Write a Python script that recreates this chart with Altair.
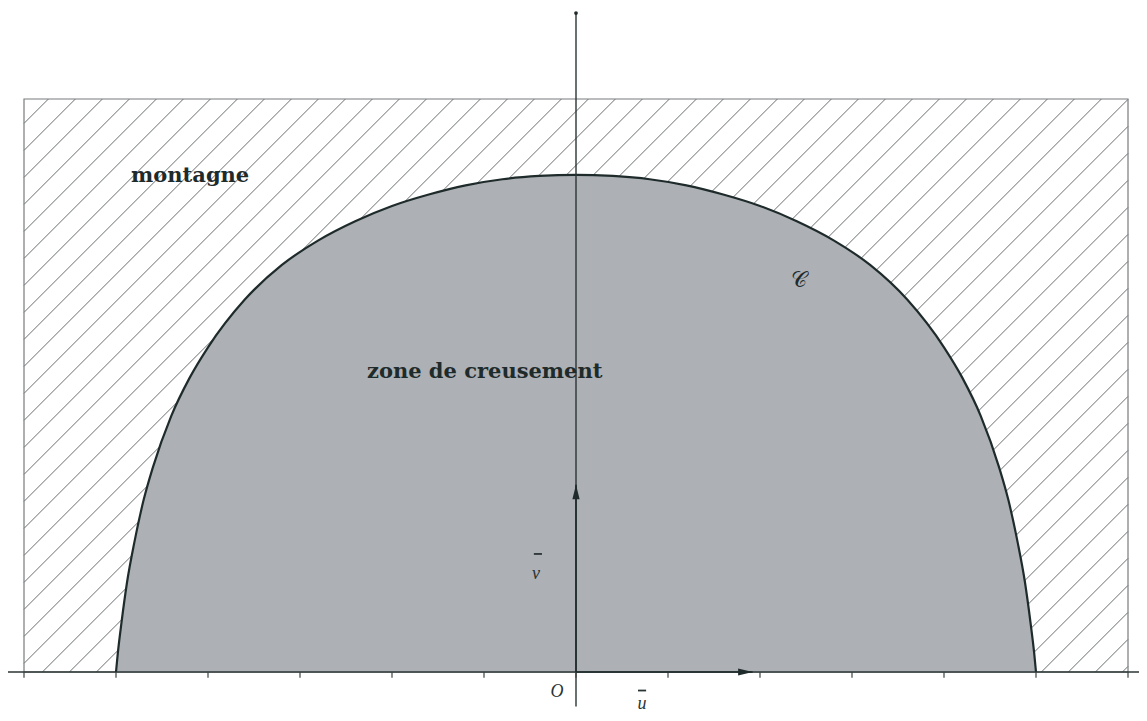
import altair as alt
import pandas as pd

# ---- data (data units: u = v = 1) ----
curve_x = [-2.5, -2.49, -2.47, -2.44, -2.4, -2.35, -2.3, -2.2, -2.1, -2.0, -1.8, -1.6,
           -1.4, -1.2, -1.0, -0.8, -0.6, -0.4, -0.2, 0.0,
           0.2, 0.4, 0.6, 0.8, 1.0, 1.2, 1.4, 1.6, 1.8, 2.0, 2.1, 2.2, 2.3, 2.35,
           2.4, 2.44, 2.47, 2.49, 2.5]
curve_y = [0.0, 0.10, 0.26, 0.47, 0.68, 0.90, 1.07, 1.34, 1.54, 1.70, 1.95, 2.13,
           2.26, 2.36, 2.44, 2.50, 2.548, 2.58, 2.597, 2.603,
           2.597, 2.58, 2.548, 2.50, 2.44, 2.36, 2.26, 2.13, 1.95, 1.70, 1.54, 1.34, 1.07, 0.90,
           0.68, 0.47, 0.26, 0.10, 0.0]

rect_x = [-3.0, 3.0]
rect_y = [0.0, 3.0]
tick_x = [-3.0, -2.5, -2.0, -1.5, -1.0, -0.5, 0.0, 0.5, 1.0, 1.5, 2.0, 2.5, 3.0]
u_vec = [0.96, 0.0]
v_vec = [0.0, 0.98]

# ---- layout / style ----
W, H = 1131, 705
PX_X = 184.0
PX_Y = 191.0
ORIGIN_X = 576.0
ORIGIN_Y = 672.0
XDOM = [(8 - ORIGIN_X) / PX_X, (8 + W - ORIGIN_X) / PX_X]
YDOM = [(ORIGIN_Y - 8 - H) / PX_Y, (ORIGIN_Y - 8) / PX_Y]
GREY = "#adb1b6"
INK = "#1f2b2b"

xs = alt.Scale(domain=XDOM, nice=False, zero=False)
ys = alt.Scale(domain=YDOM, nice=False, zero=False)


def X(f):
    return alt.X(f, type="quantitative", scale=xs, axis=None)


def Y(f):
    return alt.Y(f, type="quantitative", scale=ys, axis=None)


# hatch lines at 45 degrees (in pixels), clipped to the rectangle
slope = PX_X / PX_Y
step = 27.0 / PX_X
c = -2.90
while c > rect_x[0] - (rect_y[1] / slope):
    c -= step
c += step
segs = []
while c < rect_x[1]:
    xlo = max(rect_x[0], c)
    xhi = min(rect_x[1], c + rect_y[1] / slope)
    if xlo < xhi:
        segs.append({"x": xlo, "y": slope * (xlo - c), "x2": xhi, "y2": slope * (xhi - c)})
    c += step
hatch_df = pd.DataFrame(segs)

curve_df = pd.DataFrame({"x": curve_x, "y": curve_y})
rect_df = pd.DataFrame({"x": [rect_x[0]], "x2": [rect_x[1]], "y": [rect_y[0]], "y2": [rect_y[1]]})

hatch = alt.Chart(hatch_df).mark_rule(color="#6b6f70", strokeWidth=1).encode(
    x=X("x"), y=Y("y"), x2=alt.X2("x2"), y2=alt.Y2("y2"))

rect = alt.Chart(rect_df).mark_rect(fill=None, stroke="#777b7c", strokeWidth=1.2).encode(
    x=X("x"), x2=alt.X2("x2"), y=Y("y"), y2=alt.Y2("y2"))

area = alt.Chart(curve_df).mark_area(color=GREY, opacity=1, interpolate="monotone").encode(
    x=X("x"), y=Y("y"), y2=alt.datum(0))

line = alt.Chart(curve_df).mark_line(color=INK, strokeWidth=2.2, interpolate="monotone").encode(
    x=X("x"), y=Y("y"))

axes_df = pd.DataFrame({
    "x": [XDOM[0], 0.0],
    "x2": [XDOM[1], 0.0],
    "y": [0.0, -0.18],
    "y2": [0.0, 3.45],
})
axes = alt.Chart(axes_df).mark_rule(color="#2a3434", strokeWidth=1.4).encode(
    x=X("x"), x2=alt.X2("x2"), y=Y("y"), y2=alt.Y2("y2"))

ticks_df = pd.DataFrame({"x": tick_x, "y": [0.0] * len(tick_x), "y2": [-0.03] * len(tick_x)})
ticks = alt.Chart(ticks_df).mark_rule(color="#3a4444", strokeWidth=1.2).encode(
    x=X("x"), y=Y("y"), y2=alt.Y2("y2"))

# vectors u and v (arrow heads with tip on the point)
vec_df = pd.DataFrame({"x": [0.0, 0.0], "y": [0.0, 0.0],
                       "x2": [u_vec[0], v_vec[0]], "y2": [u_vec[1], v_vec[1]]})
vecs = alt.Chart(vec_df).mark_rule(color=INK, strokeWidth=1.6).encode(
    x=X("x"), x2=alt.X2("x2"), y=Y("y"), y2=alt.Y2("y2"))

head_u = alt.Chart(pd.DataFrame({"x": [u_vec[0]], "y": [u_vec[1]]})).mark_point(
    shape="M 0 0 L -2 -0.5 L -2 0.5 Z", filled=True, size=210, color=INK, opacity=1).encode(
    x=X("x"), y=Y("y"))
head_v = alt.Chart(pd.DataFrame({"x": [v_vec[0]], "y": [v_vec[1]]})).mark_point(
    shape="M 0 0 L -0.5 2 L 0.5 2 Z", filled=True, size=210, color=INK, opacity=1).encode(
    x=X("x"), y=Y("y"))
top_dot = alt.Chart(pd.DataFrame({"x": [0.0], "y": [3.45]})).mark_point(
    shape="circle", filled=True, size=14, color=INK, opacity=1).encode(x=X("x"), y=Y("y"))

# labels
bold_df = pd.DataFrame({
    "t": ["montagne", "zone de creusement"],
    "x": [-2.418, -1.136],
    "y": [2.565, 1.539],
})
bold_txt = alt.Chart(bold_df).mark_text(
    font="DejaVu Serif", fontWeight="bold", fontSize=21, color=INK,
    align="left", baseline="alphabetic").encode(x=X("x"), y=Y("y"), text="t:N")

ital_df = pd.DataFrame({
    "t": ["O", "v", "u"],
    "x": [-0.103, -0.217, 0.359],
    "y": [-0.105, 0.515, -0.168],
})
ital_txt = alt.Chart(ital_df).mark_text(
    font="Liberation Serif", fontStyle="italic", fontSize=18, color="#2a3434",
    align="center", baseline="middle").encode(x=X("x"), y=Y("y"), text="t:N")

# vector bars drawn as short strokes above v and u
bar_df = pd.DataFrame({"x": [-0.229, 0.337], "x2": [-0.185, 0.381], "y": [0.618, -0.097]})
bars = alt.Chart(bar_df).mark_rule(color="#2a3434", strokeWidth=1.8).encode(
    x=X("x"), x2=alt.X2("x2"), y=Y("y"))

c_df = pd.DataFrame({"t": ["𝒞"], "x": [1.21], "y": [2.052]})
c_txt = alt.Chart(c_df).mark_text(
    fontSize=22, color=INK, align="center", baseline="middle").encode(
    x=X("x"), y=Y("y"), text="t:N")

chart = alt.layer(
    hatch, rect, area, line, axes, ticks, vecs, head_u, head_v, top_dot,
    bold_txt, ital_txt, bars, c_txt
).properties(
    width=W, height=H,
    autosize=alt.AutoSizeParams(type="none"),
    padding=0,
    background="white",
).configure_view(stroke=None)

chart.save("out.html", embed_options={"renderer": "svg", "actions": False})
